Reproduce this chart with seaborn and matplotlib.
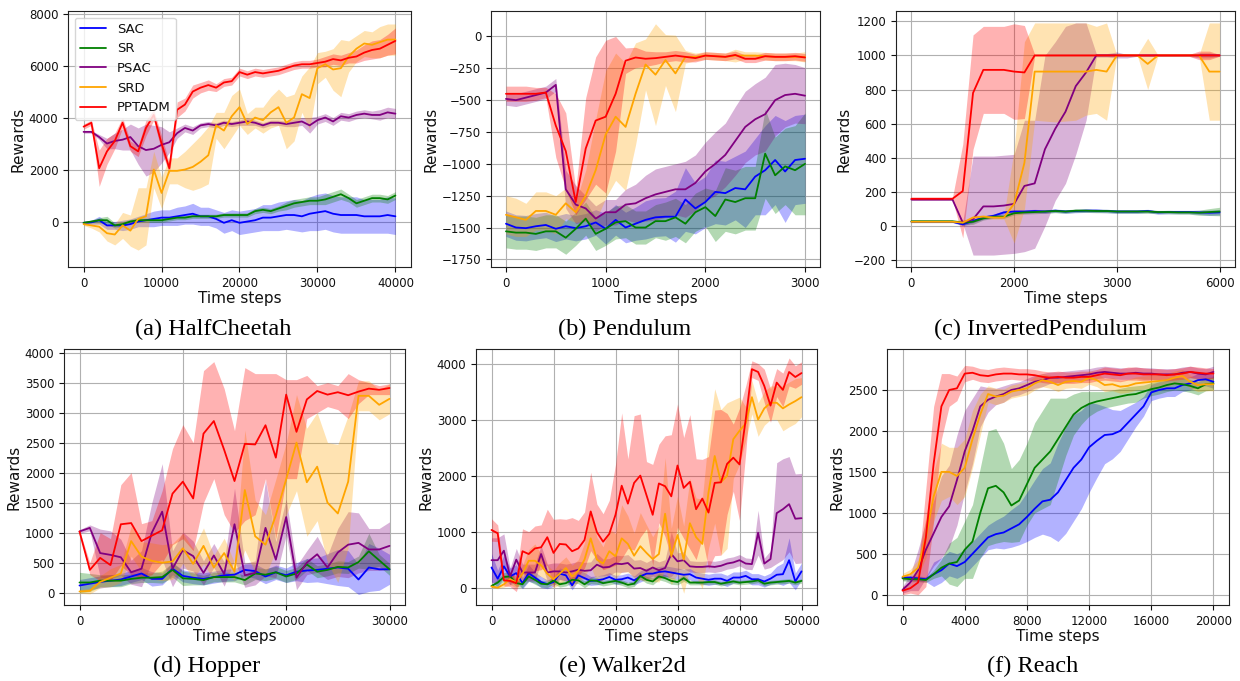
import numpy as np
import pandas as pd
import matplotlib
matplotlib.use("Agg")
import matplotlib.pyplot as plt
import seaborn as sns

methods = ["SAC", "SR", "PSAC", "SRD", "PPTADM"]
colors = ["blue", "green", "purple", "orange", "red"]

# ---------------- (a) HalfCheetah ----------------
hc_steps = list(range(0, 40001, 1000))
hc_sac = [-50,-30,50,-150,-150,-150,-100,0,50,100,150,150,200,250,300,200,200,100,-50,50,-50,0,50,150,150,200,250,250,200,300,350,400,300,250,250,250,200,200,200,250,200]
hc_sac_sd = [50,80,150,150,150,200,200,200,250,300,300,300,350,350,400,350,350,350,400,400,450,450,450,500,500,550,550,600,600,650,700,700,700,700,700,700,650,650,650,700,700]
hc_sr = [-50,0,50,50,-150,-100,0,50,50,50,50,100,150,150,200,200,200,200,250,250,250,250,400,450,400,500,600,700,750,800,800,850,950,1050,900,700,800,900,900,850,1000]
hc_sr_sd = [50,50,100,150,100,100,80,80,80,80,80,80,80,80,80,80,80,80,80,80,80,80,100,100,100,100,150,150,150,150,150,200,200,200,150,150,150,150,150,150,150]
hc_psac = [3450,3450,3250,3000,3100,3150,3250,2900,2750,2800,2950,3050,3400,3600,3500,3700,3750,3700,3800,3750,3800,3850,3800,3700,3800,3800,3750,3800,3850,3700,3900,4000,3850,4050,4000,4100,4150,4100,4100,4200,4150]
hc_psac_sd = [50,50,100,200,300,400,500,700,1000,900,700,400,200,150,150,100,100,100,100,100,100,150,100,100,100,100,100,150,150,300,150,150,150,150,150,150,150,150,200,200,200]
hc_srd = [-100,-150,-200,-450,-500,-150,-350,100,200,2000,1100,1950,1950,2000,2100,2300,2550,3700,3500,4050,4400,3750,4000,3900,4200,4400,3800,4000,4900,4750,5900,6050,5850,5900,6350,6650,6850,6800,6900,7000,7000]
hc_srd_sd = [50,100,200,300,400,500,600,1200,1100,700,600,500,500,700,900,1000,1100,500,700,800,700,400,400,500,600,700,1000,900,700,1200,600,500,800,1100,600,500,500,500,600,600,600]
hc_ppt = [3650,3800,2050,2700,3100,3800,2900,2700,3600,4100,3000,2050,4300,4500,5000,5150,5250,5150,5350,5400,5750,5650,5750,5700,5750,5800,5900,6000,6050,6050,6100,6150,6250,6200,6300,6350,6500,6600,6650,6800,6950]
hc_ppt_sd = [100,100,700,500,300,200,200,200,300,200,300,200,300,250,250,200,200,150,150,150,150,150,150,150,150,150,150,150,150,150,150,200,200,200,200,250,300,350,350,400,500]

# ---------------- (b) Pendulum ----------------
pe_steps = list(range(0, 3001, 100))
pe_sac = [-1470,-1500,-1505,-1490,-1480,-1510,-1490,-1505,-1490,-1460,-1510,-1440,-1500,-1470,-1440,-1420,-1415,-1415,-1280,-1350,-1300,-1220,-1230,-1190,-1200,-1100,-1050,-970,-1060,-970,-960]
pe_sac_sd = [100,100,100,100,100,100,100,100,100,100,120,120,120,130,150,150,150,200,250,200,200,250,250,250,300,300,350,350,400,350,350]
pe_sr = [-1530,-1540,-1540,-1550,-1530,-1530,-1580,-1510,-1430,-1550,-1510,-1460,-1450,-1500,-1500,-1450,-1450,-1420,-1470,-1380,-1340,-1410,-1280,-1300,-1270,-1270,-920,-1090,-1020,-1050,-1000]
pe_sr_sd = [130,130,130,130,130,130,130,130,130,130,130,130,130,130,130,130,150,150,150,150,150,200,250,250,250,250,350,300,300,350,400]
pe_psac = [-490,-500,-480,-460,-440,-380,-1200,-1320,-1350,-1430,-1380,-1380,-1320,-1310,-1270,-1240,-1220,-1200,-1200,-1150,-1060,-1000,-930,-820,-710,-650,-610,-500,-460,-450,-465]
pe_psac_sd = [50,50,50,50,50,50,150,150,100,100,100,100,120,150,180,200,200,200,220,220,230,250,250,270,280,280,290,280,250,230,220]
pe_srd = [-1400,-1420,-1440,-1370,-1370,-1400,-1310,-1380,-1250,-1050,-770,-630,-710,-450,-220,-300,-185,-290,-160,-160,-150,-155,-160,-150,-150,-150,-155,-160,-160,-160,-160]
pe_srd_sd = [150,150,130,150,150,150,120,80,200,400,500,500,500,400,200,400,200,300,50,30,30,30,30,50,30,30,30,30,30,30,40]
pe_ppt = [-450,-450,-450,-450,-440,-700,-900,-1300,-880,-660,-630,-450,-190,-165,-175,-170,-160,-150,-160,-170,-150,-155,-160,-145,-175,-175,-155,-160,-160,-155,-165]
pe_ppt_sd = [60,60,60,50,40,250,300,100,400,500,600,450,100,80,60,50,40,40,40,30,30,30,30,30,30,30,30,30,30,30,30]

# ---------------- (c) InvertedPendulum ----------------
ip_steps = list(range(0, 6001, 200))
ip_xticklabels = ["0", "2000", "3000", "6000"]
ip_sac = [25,25,25,25,25,10,30,50,60,80,85,85,88,85,90,85,88,90,90,88,85,85,85,88,80,82,82,82,80,78,80]
ip_sac_sd = [5,5,5,5,5,8,10,10,10,10,10,10,10,10,10,10,10,10,10,10,10,10,10,10,10,10,10,10,12,15,15]
ip_sr = [28,28,28,28,28,20,25,45,55,55,75,80,82,85,88,85,90,90,88,88,85,85,85,85,82,82,80,80,78,82,85]
ip_sr_sd = [5,5,5,5,5,15,15,10,10,10,10,10,10,10,10,10,10,10,10,10,10,10,10,10,10,10,10,10,15,20,25]
ip_psac = [155,155,155,155,155,20,40,115,115,120,130,235,250,450,570,670,820,900,1000,1000,1000,1000,1000,1000,1000,1000,1000,1000,1000,1000,1000]
ip_psac_lo = [150,150,150,150,150,15,-170,-170,-170,-165,-160,-150,-130,0,150,250,420,620,990,990,985,985,995,995,995,995,995,995,985,985,995]
ip_psac_hi = [160,160,160,160,160,25,410,410,410,415,420,620,620,1000,1080,1170,1190,1190,1010,1010,1020,1005,1005,1005,1005,1005,1005,1005,1015,1015,1005]
ip_srd = [25,25,25,25,25,20,50,55,50,50,130,370,905,905,905,905,905,905,915,905,1000,1000,1000,950,1000,1000,1000,1000,1000,905,905]
ip_srd_lo = [20,20,20,20,20,15,40,45,40,40,-100,100,620,615,610,615,620,650,660,620,998,998,998,800,998,998,998,998,998,620,620]
ip_srd_hi = [30,30,30,30,30,25,60,65,60,60,450,1080,1190,1190,1190,1190,1190,1190,1170,1190,1002,1002,1002,1100,1002,1002,1002,1002,1002,1190,1190]
ip_ppt = [160,160,160,160,160,205,780,915,915,915,905,900,1000,1000,1000,1000,1000,1000,1000,1000,1000,1000,1000,1000,1000,1000,1000,1000,1000,1000,1000]
ip_ppt_lo = [155,155,155,155,155,-70,450,660,660,660,625,630,995,995,995,995,995,995,995,995,995,995,995,995,995,995,995,995,975,975,995]
ip_ppt_hi = [168,168,168,168,168,480,1120,1170,1170,1170,1185,1175,1005,1005,1005,1005,1005,1005,1005,1005,1005,1005,1005,1005,1005,1005,1005,1005,1025,1025,1005]

# ---------------- (d) Hopper ----------------
ho_steps = list(range(0, 30001, 1000))
ho_sac = [120,150,180,200,220,270,320,230,230,400,280,250,230,260,290,300,380,360,270,340,290,350,370,380,400,420,400,220,420,390,390]
ho_sac_sd = [100,100,100,100,100,100,100,120,100,100,100,100,100,100,100,100,100,120,120,120,120,150,200,200,250,300,300,250,400,350,250]
ho_sr = [170,170,200,200,200,230,250,250,260,380,240,230,210,260,260,260,210,320,300,340,270,320,470,350,380,430,420,510,690,540,390]
ho_sr_sd = [170,150,100,100,100,80,80,80,100,120,120,100,80,80,80,80,80,100,100,100,100,100,100,100,100,100,100,100,300,100,100]
ho_psac = [1020,1080,660,630,590,340,400,1000,1350,400,710,610,330,620,310,1140,290,330,1080,550,1260,250,500,640,420,670,800,830,720,720,780]
ho_psac_sd = [30,50,400,400,300,200,300,500,800,300,300,250,200,200,200,600,200,200,800,300,300,200,200,300,200,400,550,500,350,350,400]
ho_srd = [20,30,180,250,320,860,600,530,500,520,740,480,780,420,660,350,1710,940,800,1290,1890,2500,1840,2100,1500,1320,1850,3280,3280,3130,3230]
ho_srd_sd = [30,50,100,150,150,250,250,300,300,300,250,250,300,200,250,150,1000,600,500,600,600,800,900,900,1000,1150,1100,250,250,250,250]
ho_ppt = [1020,380,580,460,1140,1160,860,950,1040,1650,1850,1570,2650,2860,2380,1860,2480,2470,2790,2250,3300,2680,3220,3360,3300,3340,3290,3350,3400,3380,3410]
ho_ppt_lo = [1000,300,200,200,450,300,250,300,500,800,900,700,1500,1900,1300,1000,1200,1300,1900,900,1900,1900,2900,3000,3100,3050,2900,3150,3300,3300,3300]
ho_ppt_hi = [1040,500,1000,900,1800,2000,1150,1200,1700,2400,2800,2500,3700,3850,3400,2700,3750,3650,3650,3650,3550,3550,3620,3450,3500,3450,3650,3550,3500,3450,3480]

# ---------------- (e) Walker2d ----------------
wa_steps = list(range(0, 50001, 1000))
wa_sac = [360,160,380,200,260,80,260,180,100,60,100,250,220,40,220,170,120,130,150,190,140,150,180,130,200,250,250,280,290,270,250,230,240,180,160,140,160,160,120,180,180,210,150,150,110,160,230,240,490,110,290]
wa_sac_sd = [250,150,200,150,150,100,150,100,100,80,80,100,100,80,100,100,80,80,80,80,80,80,80,80,100,100,100,100,100,100,100,100,100,100,100,100,100,100,100,100,100,100,100,100,100,100,150,200,400,150,150]
wa_sr = [30,90,190,200,80,60,200,140,70,60,130,60,80,140,130,60,130,120,80,100,120,90,50,70,210,140,110,200,170,120,100,170,90,90,90,100,100,70,90,110,90,100,110,130,70,90,100,110,120,90,120]
wa_sr_sd = [30,60,80,80,60,60,80,80,60,60,60,50,50,60,60,60,60,60,50,50,50,50,50,50,60,60,60,60,60,60,50,60,40,40,40,40,40,40,40,40,40,40,40,40,40,40,40,40,40,40,40]
wa_psac = [490,490,660,200,500,270,270,270,600,270,290,290,270,290,320,300,310,410,360,370,430,420,440,340,350,300,360,310,350,600,470,490,380,370,370,380,370,390,430,450,490,430,420,980,430,510,1330,1400,1490,1230,1240]
wa_psac_sd = [400,400,300,150,200,150,150,150,150,150,150,150,150,150,150,150,150,200,150,150,150,150,150,150,150,150,150,150,150,400,150,150,100,100,100,100,100,100,100,100,100,100,100,400,100,150,900,900,850,800,800]
wa_srd = [20,0,60,150,100,250,480,480,400,250,150,250,350,200,300,500,880,500,430,650,560,880,780,570,740,620,510,600,1320,560,940,500,1150,900,780,1700,2350,1880,2000,2650,2800,2930,3400,3000,3200,3300,3300,3200,3270,3330,3400]
wa_srd_sd = [20,20,50,100,100,150,200,300,200,150,150,200,200,200,200,300,500,400,300,400,400,600,500,400,600,500,400,500,1000,500,700,600,800,700,800,1000,1200,1300,1300,700,600,300,300,300,300,300,300,400,400,400,350]
wa_ppt = [1030,970,130,120,80,650,600,700,720,900,620,780,770,650,700,850,1360,990,820,960,1300,1820,1500,1870,2000,1650,1300,1860,1810,1630,2180,1780,1890,1400,1590,1340,1870,1880,2210,2320,2200,3000,3900,3850,3600,3250,3660,3530,3850,3760,3830]
wa_ppt_sd = [200,150,100,100,150,400,400,400,400,500,600,450,450,600,500,500,700,500,500,600,900,1300,800,1200,1100,600,900,700,900,1100,1100,900,1200,900,700,1000,1300,1300,900,600,1000,600,150,150,300,300,250,300,250,200,200]

# ---------------- (f) Reach ----------------
re_steps = list(range(0, 20001, 500))
re_sac = [210,210,200,190,250,300,380,350,400,500,600,700,740,760,810,860,950,1050,1140,1160,1250,1400,1550,1650,1800,1880,1950,1960,2000,2100,2200,2300,2470,2500,2520,2520,2560,2580,2620,2630,2600]
re_sac_sd = [30,30,30,30,150,150,150,150,150,150,150,150,170,200,230,250,300,350,400,450,600,650,650,600,550,450,350,300,250,200,150,120,100,100,100,100,80,80,80,80,80]
re_sr = [200,190,190,180,250,330,380,400,550,650,1000,1300,1330,1250,1090,1150,1350,1550,1650,1750,1900,2050,2200,2280,2330,2360,2380,2400,2420,2440,2450,2480,2510,2530,2560,2580,2570,2550,2520,2570,2580]
re_sr_sd = [30,30,30,30,50,100,250,300,350,450,550,700,700,600,450,500,500,550,600,650,500,350,250,200,150,120,100,100,100,100,100,80,80,80,80,80,80,80,80,80,80]
re_psac = [60,150,300,550,750,950,1080,1400,1750,2000,2300,2380,2420,2450,2500,2520,2560,2600,2620,2650,2650,2660,2670,2680,2690,2710,2720,2710,2700,2700,2710,2700,2700,2690,2690,2690,2710,2720,2700,2690,2720]
re_psac_sd = [40,100,250,350,400,500,500,550,500,400,250,150,100,100,80,80,80,80,80,70,70,70,70,70,70,70,70,70,70,70,70,70,70,70,70,70,70,70,70,70,70]
re_srd = [220,250,330,700,1200,1500,1500,1450,1550,1900,2200,2450,2420,2430,2480,2500,2520,2580,2620,2600,2560,2600,2610,2600,2650,2620,2560,2570,2540,2550,2580,2590,2600,2610,2620,2650,2670,2600,2560,2570,2570]
re_srd_sd = [40,60,100,250,300,350,300,350,350,350,250,100,100,80,80,80,80,80,80,80,80,80,80,80,80,80,80,80,80,80,80,80,80,80,80,80,80,80,80,80,80]
re_ppt = [50,80,150,700,1600,2300,2500,2520,2700,2710,2680,2670,2690,2700,2700,2690,2690,2680,2660,2650,2660,2650,2650,2660,2660,2680,2700,2690,2680,2700,2700,2690,2690,2690,2680,2690,2700,2720,2710,2700,2700]
re_ppt_sd = [50,60,150,600,700,400,200,150,100,80,80,80,80,80,70,70,70,70,70,70,70,70,70,70,70,70,80,80,80,80,80,80,70,70,70,70,70,70,70,70,60]

captions = ["(a) HalfCheetah", "(b) Pendulum", "(c) InvertedPendulum",
            "(d) Hopper", "(e) Walker2d", "(f) Reach"]


def sd_band(mean, sd):
    m = np.asarray(mean, float)
    s = np.asarray(sd, float)
    return m - s, m + s


panels = [
    dict(steps=hc_steps, means=[hc_sac, hc_sr, hc_psac, hc_srd, hc_ppt],
         bands=[sd_band(hc_sac, hc_sac_sd), sd_band(hc_sr, hc_sr_sd), sd_band(hc_psac, hc_psac_sd),
                sd_band(hc_srd, hc_srd_sd), sd_band(hc_ppt, hc_ppt_sd)]),
    dict(steps=pe_steps, means=[pe_sac, pe_sr, pe_psac, pe_srd, pe_ppt],
         bands=[sd_band(pe_sac, pe_sac_sd), sd_band(pe_sr, pe_sr_sd), sd_band(pe_psac, pe_psac_sd),
                sd_band(pe_srd, pe_srd_sd), sd_band(pe_ppt, pe_ppt_sd)]),
    dict(steps=ip_steps, means=[ip_sac, ip_sr, ip_psac, ip_srd, ip_ppt],
         bands=[sd_band(ip_sac, ip_sac_sd), sd_band(ip_sr, ip_sr_sd), (ip_psac_lo, ip_psac_hi),
                (ip_srd_lo, ip_srd_hi), (ip_ppt_lo, ip_ppt_hi)]),
    dict(steps=ho_steps, means=[ho_sac, ho_sr, ho_psac, ho_srd, ho_ppt],
         bands=[sd_band(ho_sac, ho_sac_sd), sd_band(ho_sr, ho_sr_sd), sd_band(ho_psac, ho_psac_sd),
                sd_band(ho_srd, ho_srd_sd), (ho_ppt_lo, ho_ppt_hi)]),
    dict(steps=wa_steps, means=[wa_sac, wa_sr, wa_psac, wa_srd, wa_ppt],
         bands=[sd_band(wa_sac, wa_sac_sd), sd_band(wa_sr, wa_sr_sd), sd_band(wa_psac, wa_psac_sd),
                sd_band(wa_srd, wa_srd_sd), sd_band(wa_ppt, wa_ppt_sd)]),
    dict(steps=re_steps, means=[re_sac, re_sr, re_psac, re_srd, re_ppt],
         bands=[sd_band(re_sac, re_sac_sd), sd_band(re_sr, re_sr_sd), sd_band(re_psac, re_psac_sd),
                sd_band(re_srd, re_srd_sd), sd_band(re_ppt, re_ppt_sd)]),
]

sns.set_theme(style="ticks")
plt.rcParams.update({
    "font.family": ["DejaVu Sans"],
    "axes.grid": True,
    "grid.color": "#b0b0b0",
    "grid.linewidth": 0.8,
    "axes.edgecolor": "#222222",
    "axes.linewidth": 0.8,
    "xtick.major.size": 3.5,
    "ytick.major.size": 3.5,
    "xtick.major.width": 0.8,
    "ytick.major.width": 0.8,
    "xtick.labelsize": 8.5,
    "ytick.labelsize": 8.5,
    "axes.labelsize": 11,
    "text.color": "#111111",
    "axes.labelcolor": "#111111",
    "xtick.color": "#111111",
    "ytick.color": "#111111",
})

fig = plt.figure(figsize=(12.4, 6.81), dpi=100)
W, H = 1240.0, 681.0
# axes boxes in pixels: (left, top, right, bottom)
boxes = [(68, 11, 411, 267), (491, 11, 820, 267), (896, 11, 1235, 267),
         (64, 349, 405, 605), (476, 349, 817, 605), (887, 349, 1229, 605)]
xlims = [(-2000, 42000), (-150, 3150), (-300, 6300), (-1500, 31500), (-2500, 52500), (-1000, 21000)]
ylims = [(-1750, 8100), (-1810, 200), (-240, 1260), (-205, 4060), (-310, 4260), (-125, 3000)]
xticks = [range(0, 40001, 10000), range(0, 3001, 1000), [0, 2000, 4000, 6000],
          range(0, 30001, 10000), range(0, 50001, 10000), range(0, 20001, 4000)]
yticks = [range(0, 8001, 2000), range(-1750, 1, 250), range(-200, 1201, 200),
          range(0, 4001, 500), range(0, 4001, 1000), range(0, 2501, 500)]
cap_pos = [(213, 329), (625, 329), (1040, 329), (207, 666), (622, 666), (1033, 666)]

for i, p in enumerate(panels):
    l, t, r, b = boxes[i]
    ax = fig.add_axes([l / W, 1 - b / H, (r - l) / W, (b - t) / H])
    steps = p["steps"]
    for m, c, y, (lo, hi) in zip(methods, colors, p["means"], p["bands"]):
        ax.fill_between(steps, lo, hi, color=c, alpha=0.3, linewidth=0)
        df = pd.DataFrame({"step": steps, "reward": y})
        sns.lineplot(data=df, x="step", y="reward", color=c, linewidth=1.3,
                     label=m, ax=ax, legend=False)
    ax.set_xlim(*xlims[i])
    ax.set_ylim(*ylims[i])
    ax.set_xticks(list(xticks[i]))
    ax.set_yticks(list(yticks[i]))
    if i == 2:
        ax.set_xticklabels(ip_xticklabels)
    ax.set_xlabel("Time steps", labelpad=1)
    ax.set_ylabel("Rewards", labelpad=2)
    ax.grid(True, color="#b0b0b0", linewidth=0.8)
    ax.set_axisbelow(True)
    if i == 0:
        ax.legend(loc="upper left", fontsize=9.5, framealpha=0.8, handlelength=2.0)
    else:
        lg = ax.get_legend()
        if lg is not None:
            lg.remove()
    cx, cy = cap_pos[i]
    fig.text(cx / W, 1 - cy / H, captions[i], ha="center", va="center",
             fontsize=17.5, family=["Liberation Serif", "DejaVu Serif"], color="black")

fig.savefig("out.png", dpi=100)
